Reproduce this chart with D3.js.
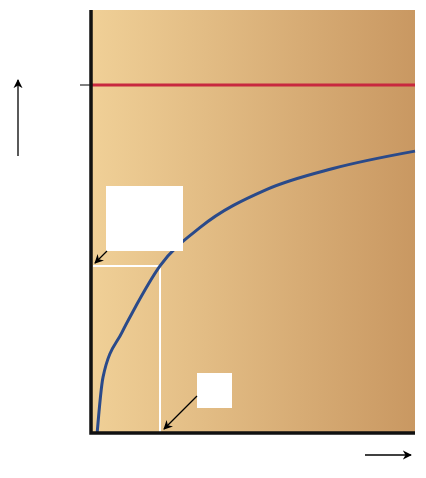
<!DOCTYPE html>
<html><head><meta charset="utf-8">
<script src="https://cdn.jsdelivr.net/npm/d3@7"></script>
<style>body{margin:0;background:#fff}</style>
</head><body>
<svg id="c" width="426" height="478"></svg>
<script>
// substrate concentration vs. reaction rate
const substrate = [0.19, 0.37, 0.96, 1.3, 2.13, 3.36, 5.43, 7.47, 10];
const rate = [0, 0.16, 0.29, 0.35, 0.48, 0.59, 0.70, 0.76, 0.81];
const vmax = 1;
const km = 2.13;

const svg = d3.select("#c");
const x = d3.scaleLinear().domain([0, 10]).range([91, 415]);
const y = d3.scaleLinear().domain([0, vmax]).range([433, 85]);
const yTop = y.invert(10);

const defs = svg.append("defs");
const g = defs.append("linearGradient").attr("id", "bg");
g.append("stop").attr("offset", "0%").attr("stop-color", "#f0d097");
g.append("stop").attr("offset", "100%").attr("stop-color", "#c99862");
["end"].forEach(id => {
    defs.append("marker").attr("id", "arr").attr("viewBox", "0 0 10 10")
        .attr("refX", 9).attr("refY", 5).attr("markerWidth", 7).attr("markerHeight", 7)
        .attr("orient", "auto-start-reverse")
        .append("path").attr("d", "M0,0L10,5L0,10L3,5z").attr("fill", "#000");
});

svg.append("rect").attr("x", x(0)).attr("y", y(yTop))
    .attr("width", x(10) - x(0)).attr("height", y(0) - y(yTop)).attr("fill", "url(#bg)");

// Km guide lines
const half = rate[substrate.indexOf(km)];
svg.append("path").attr("d", `M${x(0) + 2},${y(half)}H${x(km)}V${y(0)}`)
    .attr("fill", "none").attr("stroke", "#fff").attr("stroke-width", 2);

// Vmax
svg.append("line").attr("x1", x(0)).attr("x2", x(10)).attr("y1", y(vmax)).attr("y2", y(vmax))
    .attr("stroke", "#c8283f").attr("stroke-width", 3);
svg.append("line").attr("x1", x(0) - 11).attr("x2", x(0)).attr("y1", y(vmax)).attr("y2", y(vmax))
    .attr("stroke", "#000").attr("stroke-width", 1);

const line = d3.line().x((d, i) => x(substrate[i])).y(d => y(d)).curve(d3.curveMonotoneX);
svg.append("path").attr("d", line(rate)).attr("fill", "none")
    .attr("stroke", "#2a4a8a").attr("stroke-width", 3);

// axes
svg.append("path").attr("d", `M${x(0)},${y(yTop)}V${y(0)}H${x(10)}`)
    .attr("fill", "none").attr("stroke", "#111").attr("stroke-width", 3.5);

// label boxes
svg.append("rect").attr("x", 106).attr("y", 186).attr("width", 77).attr("height", 65).attr("fill", "#fff");
svg.append("rect").attr("x", 197).attr("y", 373).attr("width", 35).attr("height", 35).attr("fill", "#fff");

const arrow = (x1, y1, x2, y2) => svg.append("line")
    .attr("x1", x1).attr("y1", y1).attr("x2", x2).attr("y2", y2)
    .attr("stroke", "#000").attr("stroke-width", 1.3).attr("marker-end", "url(#arr)");
arrow(107, 251, 95, 263);
arrow(197, 396, 164, 429);
arrow(18, 156, 18, 80);
arrow(365, 455, 411, 455);
</script>
</body></html>
